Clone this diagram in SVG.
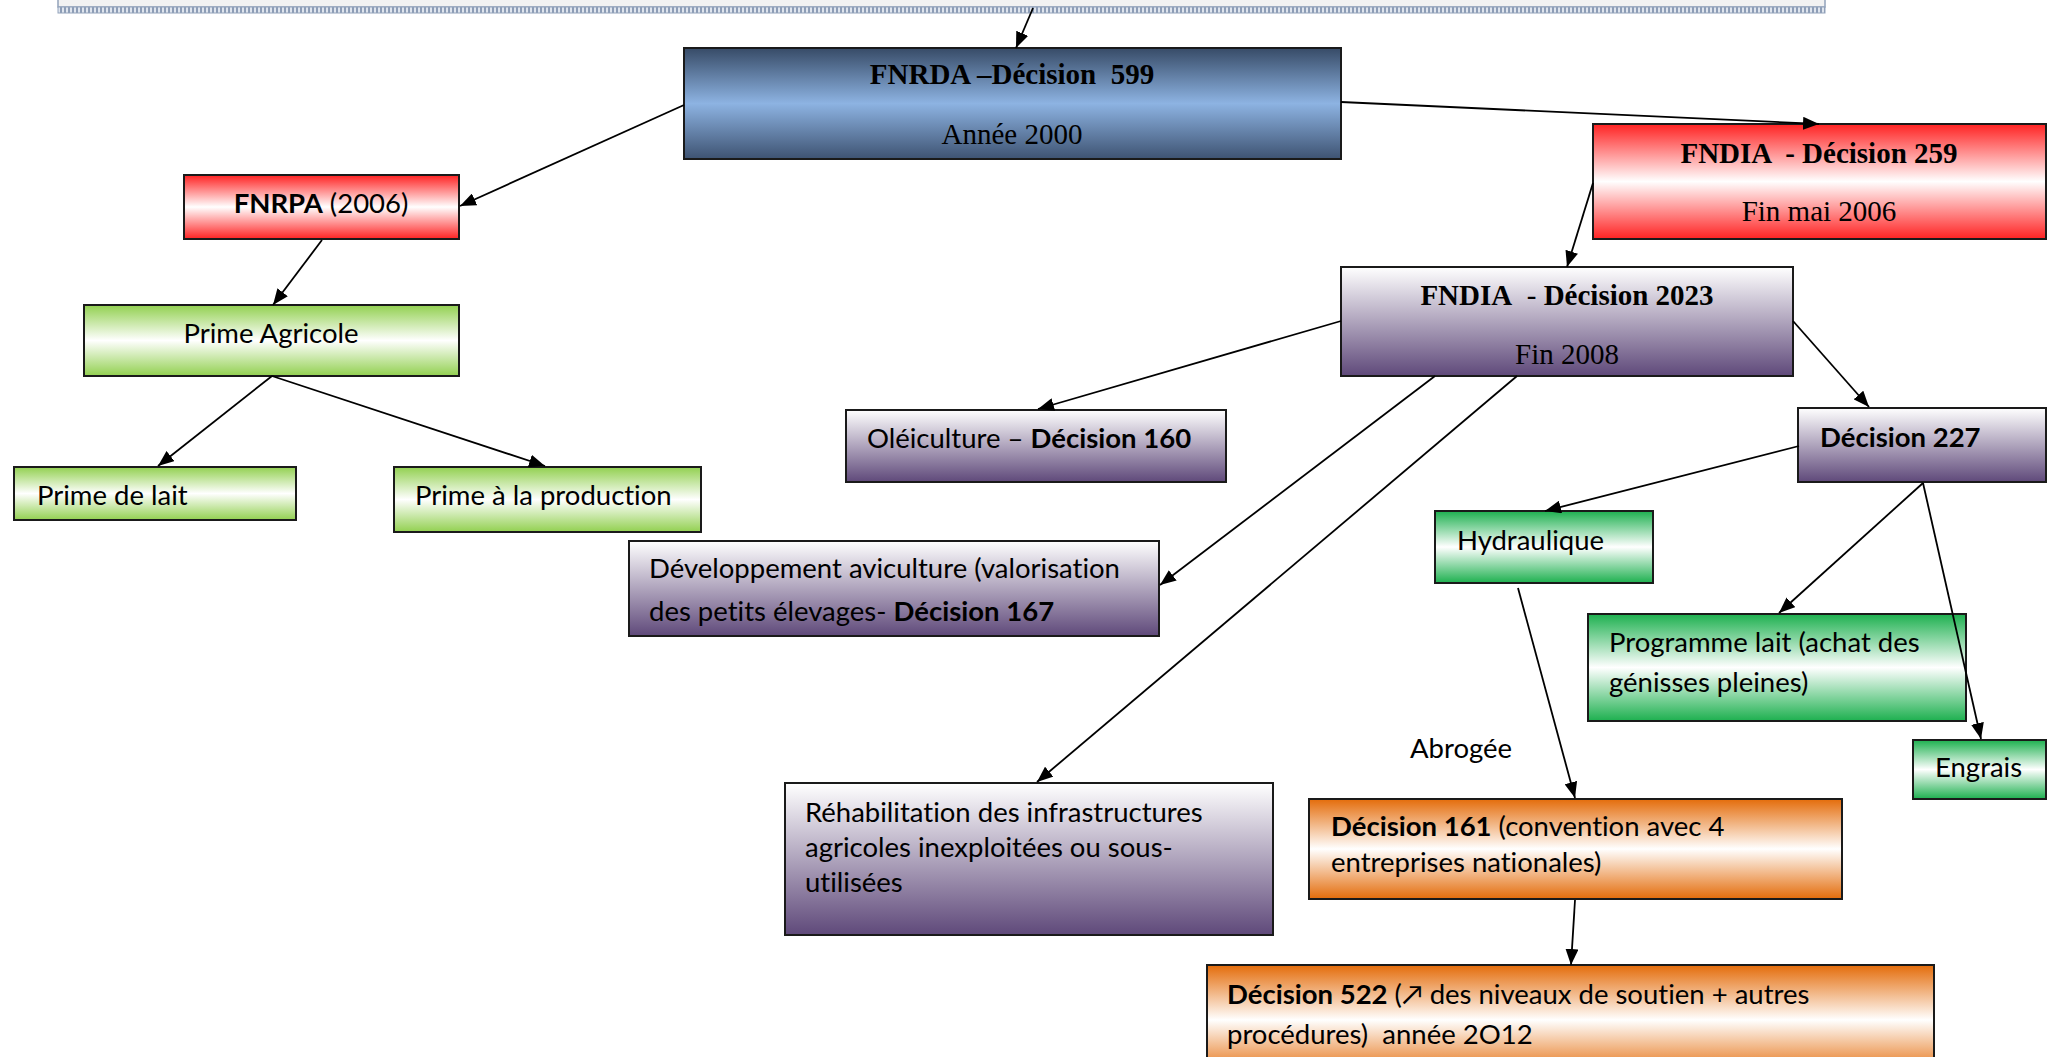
<svg xmlns="http://www.w3.org/2000/svg" width="2056" height="1057" viewBox="0 0 2056 1057">
<defs>
<style>
.box{stroke:#1a1a1a;stroke-width:2}
.tn{font-family:"Liberation Serif","Times New Roman",serif;font-size:29px;fill:#000}
.c{font-family:Lato,"Liberation Sans","DejaVu Sans",sans-serif;font-size:27.5px;fill:#000;font-variant-ligatures:none}
.b{font-weight:bold}
.edge{stroke:#000;stroke-width:1.8;fill:none;marker-end:url(#ah)}
</style>
<marker id="ah" markerUnits="userSpaceOnUse" markerWidth="17" markerHeight="13" refX="16" refY="6.5" orient="auto">
<path d="M0,0 L16,6.5 L0,13 z" fill="#000"/>
</marker>
<linearGradient id="gBlue" x1="0" y1="0" x2="0" y2="1">
<stop offset="0" stop-color="#374b67"/><stop offset="0.5" stop-color="#8db3e2"/><stop offset="1" stop-color="#3e5372"/>
</linearGradient>
<linearGradient id="gRed" x1="0" y1="0" x2="0" y2="1">
<stop offset="0" stop-color="#ff2222"/><stop offset="0.5" stop-color="#ffffff"/><stop offset="1" stop-color="#ff2222"/>
</linearGradient>
<linearGradient id="gLGreen" x1="0" y1="0" x2="0" y2="1">
<stop offset="0" stop-color="#92d050"/><stop offset="0.5" stop-color="#ffffff"/><stop offset="1" stop-color="#92d050"/>
</linearGradient>
<linearGradient id="gGreen" x1="0" y1="0" x2="0" y2="1">
<stop offset="0" stop-color="#1db04f"/><stop offset="0.5" stop-color="#ffffff"/><stop offset="1" stop-color="#1db04f"/>
</linearGradient>
<linearGradient id="gOrange" x1="0" y1="0" x2="0" y2="1">
<stop offset="0" stop-color="#e46c0a"/><stop offset="0.5" stop-color="#ffffff"/><stop offset="1" stop-color="#e46c0a"/>
</linearGradient>
<linearGradient id="gPurple" x1="0" y1="0" x2="0" y2="1">
<stop offset="0" stop-color="#ffffff"/><stop offset="1" stop-color="#5f497a"/>
</linearGradient>
<pattern id="hatch" patternUnits="userSpaceOnUse" width="4" height="6">
<rect width="4" height="6" fill="#dfe5ee"/>
<rect width="2" height="6" fill="#8d9db6"/>
</pattern>
</defs>

<g id="topbar">
<rect x="58" y="-3" width="1767" height="10" fill="#f2f2f2" stroke="#93a3bb" stroke-width="1.5"/>
<rect x="58" y="7" width="1767" height="6" fill="url(#hatch)" stroke="#93a3bb" stroke-width="1"/>
</g>

<g id="fnrda">
<rect class="box" x="684" y="48" width="657" height="111" fill="url(#gBlue)"/>
<text class="tn b" x="1012" y="84" text-anchor="middle" xml:space="preserve">FNRDA –Décision  599</text>
<text class="tn" x="1012" y="144" text-anchor="middle">Année 2000</text>
</g>

<g id="fnrpa">
<rect class="box" x="184" y="175" width="275" height="64" fill="url(#gRed)"/>
<text class="c" x="321" y="213" text-anchor="middle"><tspan class="b">FNRPA</tspan> (2006)</text>
</g>

<g id="prime-agricole">
<rect class="box" x="84" y="305" width="375" height="71" fill="url(#gLGreen)"/>
<text class="c" x="271" y="343" text-anchor="middle">Prime Agricole</text>
</g>

<g id="prime-lait">
<rect class="box" x="14" y="467" width="282" height="53" fill="url(#gLGreen)"/>
<text class="c" x="37" y="505">Prime de lait</text>
</g>

<g id="prime-production">
<rect class="box" x="394" y="467" width="307" height="65" fill="url(#gLGreen)"/>
<text class="c" x="415" y="505">Prime à la production</text>
</g>

<g id="fndia-259">
<rect class="box" x="1593" y="124" width="453" height="115" fill="url(#gRed)"/>
<text class="tn b" x="1819" y="163" text-anchor="middle" xml:space="preserve">FNDIA  - Décision 259</text>
<text class="tn" x="1819" y="221" text-anchor="middle">Fin mai 2006</text>
</g>

<g id="fndia-2023">
<rect class="box" x="1341" y="267" width="452" height="109" fill="url(#gPurple)"/>
<text class="tn" x="1567" y="305" text-anchor="middle" xml:space="preserve"><tspan class="b">FNDIA</tspan>  - <tspan class="b">Décision 2023</tspan></text>
<text class="tn" x="1567" y="364" text-anchor="middle">Fin 2008</text>
</g>

<g id="oleiculture">
<rect class="box" x="846" y="410" width="380" height="72" fill="url(#gPurple)"/>
<text class="c" x="867" y="448">Oléiculture – <tspan class="b">Décision 160</tspan></text>
</g>

<g id="aviculture">
<rect class="box" x="629" y="541" width="530" height="95" fill="url(#gPurple)"/>
<text class="c" x="649" y="578">Développement aviculture (valorisation</text>
<text class="c" x="649" y="621">des petits élevages- <tspan class="b">Décision 167</tspan></text>
</g>

<g id="rehabilitation">
<rect class="box" x="785" y="783" width="488" height="152" fill="url(#gPurple)"/>
<text class="c" x="805" y="822">Réhabilitation des infrastructures</text>
<text class="c" x="805" y="857">agricoles inexploitées ou sous-</text>
<text class="c" x="805" y="892">utilisées</text>
</g>

<g id="decision-227">
<rect class="box" x="1798" y="408" width="248" height="74" fill="url(#gPurple)"/>
<text class="c b" x="1820" y="447">Décision 227</text>
</g>

<g id="hydraulique">
<rect class="box" x="1435" y="511" width="218" height="72" fill="url(#gGreen)"/>
<text class="c" x="1457" y="550">Hydraulique</text>
</g>

<g id="programme-lait">
<rect class="box" x="1588" y="614" width="378" height="107" fill="url(#gGreen)"/>
<text class="c" x="1609" y="652">Programme lait (achat des</text>
<text class="c" x="1609" y="692">génisses pleines)</text>
</g>

<g id="engrais">
<rect class="box" x="1913" y="740" width="133" height="59" fill="url(#gGreen)"/>
<text class="c" x="1935" y="777">Engrais</text>
</g>

<g id="abrogee">
<text class="c" x="1410" y="758">Abrogée</text>
</g>

<g id="decision-161">
<rect class="box" x="1309" y="799" width="533" height="100" fill="url(#gOrange)"/>
<text class="c" x="1331" y="836"><tspan class="b">Décision 161</tspan> (convention avec 4</text>
<text class="c" x="1331" y="872">entreprises nationales)</text>
</g>

<g id="decision-522">
<rect class="box" x="1207" y="965" width="727" height="110" fill="url(#gOrange)"/>
<text class="c" x="1227" y="1004" xml:space="preserve"><tspan class="b">Décision 522</tspan> (↗ des niveaux de soutien + autres</text>
<text class="c" x="1227" y="1044" xml:space="preserve">procédures)  année 2O12</text>
</g>

<g id="connectors">
<line class="edge" x1="1033" y1="8" x2="1016" y2="48"/>
<line class="edge" x1="684" y1="105" x2="460" y2="206"/>
<line class="edge" x1="322" y1="240" x2="273" y2="305"/>
<line class="edge" x1="272" y1="376" x2="158" y2="466"/>
<line class="edge" x1="272" y1="376" x2="545" y2="466"/>
<line class="edge" x1="1341" y1="102" x2="1819" y2="124"/>
<line class="edge" x1="1593" y1="183" x2="1567" y2="267"/>
<line class="edge" x1="1341" y1="321" x2="1038" y2="409"/>
<line class="edge" x1="1435" y1="376" x2="1160" y2="585"/>
<line class="edge" x1="1517" y1="376" x2="1037" y2="782"/>
<line class="edge" x1="1793" y1="321" x2="1869" y2="407"/>
<line class="edge" x1="1799" y1="446" x2="1545" y2="511"/>
<line class="edge" x1="1923" y1="483" x2="1779" y2="613"/>
<line class="edge" x1="1923" y1="483" x2="1981" y2="739"/>
<line class="edge" x1="1518" y1="588" x2="1575" y2="798"/>
<line class="edge" x1="1575" y1="900" x2="1571" y2="965"/>
</g>
</svg>
